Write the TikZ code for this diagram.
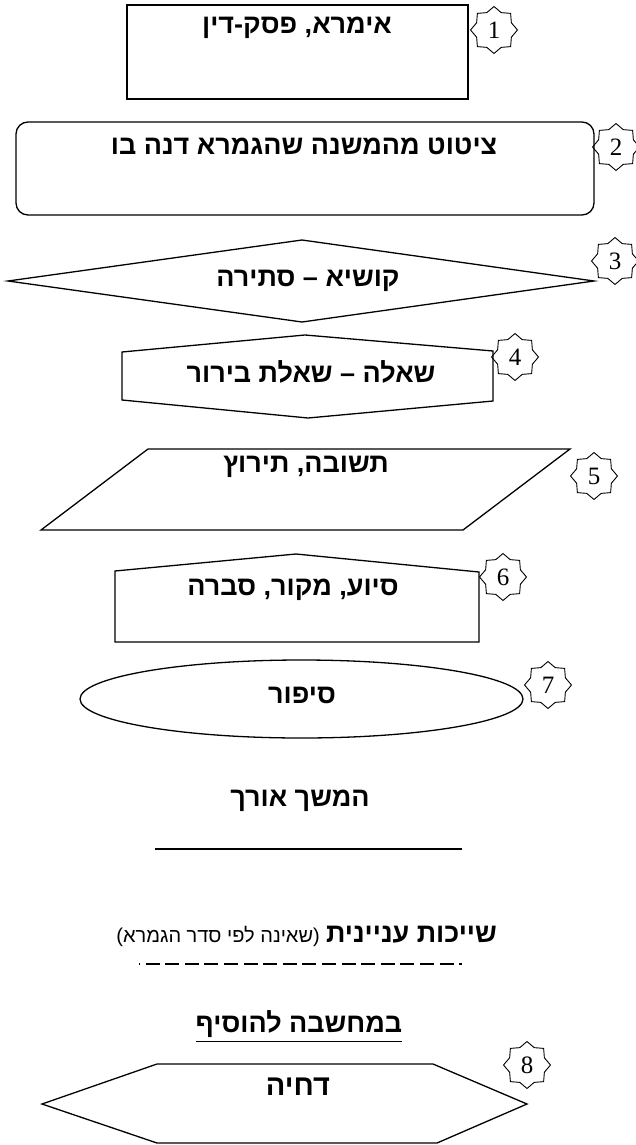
\documentclass[tikz,border=0pt]{standalone}
\usepackage{fontspec}
\usetikzlibrary{shapes.geometric}
\TeXXeTstate=1
\newfontfamily\heb[Script=Hebrew]{Liberation Sans}
\newfontfamily\numfont{Liberation Serif}
\tikzset{
  shp/.style={draw=black, line width=1.3pt, line join=miter},
  title/.style={inner sep=0pt, font=\heb\bfseries\fontsize{27}{30}\selectfont},
  note/.style={inner sep=0pt, font=\heb\fontsize{20}{23}\selectfont},
  badge/.style={star, star points=8, star point ratio=1.25, draw=black, line width=0.9pt,
    minimum size=47pt, inner sep=0pt, font=\numfont\fontsize{25}{25}\selectfont}
}
\begin{document}
\begin{tikzpicture}[x=1pt,y=-1pt]
\useasboundingbox (0,0) rectangle (636,1145);
% 1 rectangle
\draw[shp] (127,5) rectangle (468,99);
\node[title] (t1) at (297,28) {\beginR אימרא, פסק-דין\endR};
\node[badge] (b1) at (494,30) {1};
% 2 rounded rectangle
\draw[shp, rounded corners=12pt] (16,122) rectangle (594,215);
\node[title] (t2) at (304,146) {\beginR ציטוט מהמשנה שהגמרא דנה בו\endR};
\node[badge] (b2) at (616,147) {2};
% 3 diamond
\draw[shp] (8,281) -- (302,240) -- (594,281) -- (302,322) -- cycle;
\node[title] (t3) at (308,281) {\beginR קושיא – סתירה\endR};
\node[badge] (b3) at (615,261) {3};
% 4 hexagon
\draw[shp] (122,352) -- (305,335) -- (493,351) -- (493,401) -- (308,418) -- (122,400) -- cycle;
\node[title] (t4) at (311,372) {\beginR שאלה – שאלת בירור\endR};
\node[badge] (b4) at (515,357) {4};
% 5 parallelogram
\draw[shp] (148,449) -- (570,449) -- (463,530) -- (41,530) -- cycle;
\node[title] (t5) at (306,467) {\beginR תשובה, תירוץ\endR};
\node[badge] (b5) at (594,476) {5};
% 6 house
\draw[shp] (115,571) -- (296,554) -- (479,572) -- (479,642) -- (115,642) -- cycle;
\node[title] (t6) at (293,590) {\beginR סיוע, מקור, סברה\endR};
\node[badge] (b6) at (503,577) {6};
% 7 ellipse
\draw[shp] (301.5,699) ellipse [x radius=221.5, y radius=39];
\node[title] (t7) at (302,695) {\beginR סיפור\endR};
\node[badge] (b7) at (548,685) {7};
% long continuation
\node[title] (t8) at (300,801) {\beginR המשך אורך\endR};
\coordinate (l1a) at (155,849);
\coordinate (l1b) at (462,849);
\draw[line width=1.3pt] (l1a) -- (l1b);
% thematic relation
\node[title, anchor=east] (t9) at (497,935) {\beginR שייכות עניינית\endR};
\node[note, anchor=east] (t9b) at (320,936) {)\beginR שאינה לפי סדר הגמרא\endR(};
\coordinate (l2a) at (139,964);
\coordinate (l2b) at (462,964);
\draw[line width=1.3pt, dash pattern=on 14pt off 5.6pt, dash phase=13pt] (l2a) -- (l2b);
% to add
\node[title] (t10) at (299,1024) {\beginR במחשבה להוסיף\endR};
\draw[line width=1.2pt] ([yshift=-4pt]t10.south west) -- ([yshift=-4pt]t10.south east);
% 8 hexagon
\draw[shp] (42,1104) -- (157,1064) -- (433,1064) -- (527,1104) -- (437,1143) -- (157,1143) -- cycle;
\node[title, font=\heb\bfseries\fontsize{29}{32}\selectfont] (t11) at (298,1087) {\beginR דחיה\endR};
\node[badge] (b8) at (527,1065) {8};
\end{tikzpicture}
\end{document}
